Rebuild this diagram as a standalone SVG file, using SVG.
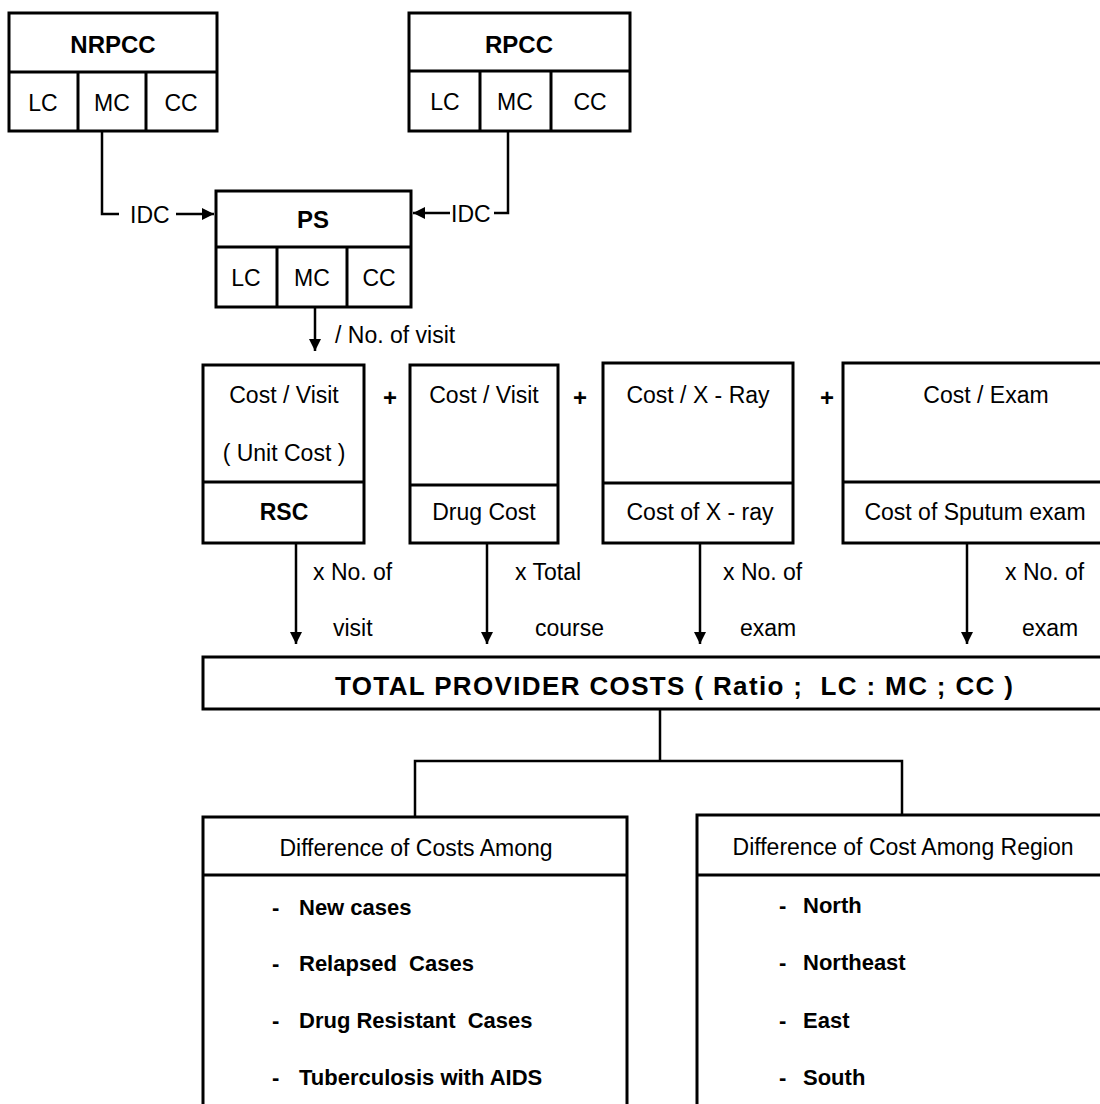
<svg xmlns="http://www.w3.org/2000/svg" width="1100" height="1104" viewBox="0 0 1100 1104">
<style>
.box{fill:#fff;stroke:#000;stroke-width:3}
.ln{fill:none;stroke:#000;stroke-width:3}
.cn{fill:none;stroke:#000;stroke-width:2.5}
text{font-family:"Liberation Sans",Arial,sans-serif;fill:#000;dominant-baseline:central}
.t{font-size:23px}
.b{font-size:24px;font-weight:bold}
.c{text-anchor:middle}
.it{font-size:22px;font-weight:bold}
.lab{font-size:23px}
</style>
<defs>
<marker id="ah" markerUnits="userSpaceOnUse" markerWidth="14" markerHeight="14" refX="12" refY="6" orient="auto">
<path d="M0,0 L12,6 L0,12 z" fill="#000"/>
</marker>
</defs>
<rect width="1100" height="1104" fill="#fff"/>

<g id="connectors">
<polyline class="cn" points="102,131 102,214 119,214"/>
<line class="cn" x1="176" y1="214" x2="214" y2="214" marker-end="url(#ah)"/>
<polyline class="cn" points="508,131 508,213 494,213"/>
<line class="cn" x1="450" y1="213" x2="413" y2="213" marker-end="url(#ah)"/>
<line class="cn" x1="315" y1="307" x2="315" y2="351" marker-end="url(#ah)"/>
<line class="cn" x1="296" y1="543" x2="296" y2="644" marker-end="url(#ah)"/>
<line class="cn" x1="487" y1="543" x2="487" y2="644" marker-end="url(#ah)"/>
<line class="cn" x1="700" y1="543" x2="700" y2="644" marker-end="url(#ah)"/>
<line class="cn" x1="967" y1="543" x2="967" y2="644" marker-end="url(#ah)"/>
<polyline class="cn" points="660,709 660,761"/>
<polyline class="cn" points="415,817 415,761 902,761 902,815"/>
<text class="lab" x="130" y="215">IDC</text>
<text class="lab" x="451" y="214">IDC</text>
<text class="lab" x="335" y="335">/ No. of visit</text>
<text class="lab" x="313" y="572">x No. of</text>
<text class="lab" x="333" y="628">visit</text>
<text class="lab" x="515" y="572">x Total</text>
<text class="lab" x="535" y="628">course</text>
<text class="lab" x="723" y="572">x No. of</text>
<text class="lab" x="740" y="628">exam</text>
<text class="lab" x="1005" y="572">x No. of</text>
<text class="lab" x="1022" y="628">exam</text>
<text class="b c" x="390" y="397">+</text>
<text class="b c" x="580" y="397">+</text>
<text class="b c" x="827" y="397">+</text>
</g>

<g id="nrpcc">
<rect class="box" x="9" y="13" width="208" height="118"/>
<line class="ln" x1="9" y1="72" x2="217" y2="72"/>
<line class="ln" x1="78" y1="72" x2="78" y2="131"/>
<line class="ln" x1="146" y1="72" x2="146" y2="131"/>
<text class="b c" x="113" y="44">NRPCC</text>
<text class="t c" x="43" y="103">LC</text>
<text class="t c" x="112" y="103">MC</text>
<text class="t c" x="181" y="103">CC</text>
</g>

<g id="rpcc">
<rect class="box" x="409" y="13" width="221" height="118"/>
<line class="ln" x1="409" y1="71" x2="630" y2="71"/>
<line class="ln" x1="480" y1="71" x2="480" y2="131"/>
<line class="ln" x1="551" y1="71" x2="551" y2="131"/>
<text class="b c" x="519" y="44">RPCC</text>
<text class="t c" x="445" y="102">LC</text>
<text class="t c" x="515" y="102">MC</text>
<text class="t c" x="590" y="102">CC</text>
</g>

<g id="ps">
<rect class="box" x="216" y="191" width="195" height="116"/>
<line class="ln" x1="216" y1="247" x2="411" y2="247"/>
<line class="ln" x1="277" y1="247" x2="277" y2="307"/>
<line class="ln" x1="347" y1="247" x2="347" y2="307"/>
<text class="b c" x="313" y="219">PS</text>
<text class="t c" x="246" y="278">LC</text>
<text class="t c" x="312" y="278">MC</text>
<text class="t c" x="379" y="278">CC</text>
</g>

<g id="rsc">
<rect class="box" x="203" y="365" width="161" height="178"/>
<line class="ln" x1="203" y1="482" x2="364" y2="482"/>
<text class="t c" x="284" y="395">Cost / Visit</text>
<text class="t c" x="284" y="453">( Unit Cost )</text>
<text class="b c" x="284" y="512" style="font-size:23px">RSC</text>
</g>

<g id="drug">
<rect class="box" x="410" y="365" width="148" height="178"/>
<line class="ln" x1="410" y1="485" x2="558" y2="485"/>
<text class="t c" x="484" y="395">Cost / Visit</text>
<text class="t c" x="484" y="512">Drug Cost</text>
</g>

<g id="xray">
<rect class="box" x="603" y="363" width="190" height="180"/>
<line class="ln" x1="603" y1="483" x2="793" y2="483"/>
<text class="t c" x="698" y="395">Cost / X - Ray</text>
<text class="t c" x="700" y="512">Cost of X - ray</text>
</g>

<g id="sputum">
<rect class="box" x="843" y="363" width="270" height="180"/>
<line class="ln" x1="843" y1="482" x2="1113" y2="482"/>
<text class="t c" x="986" y="395">Cost / Exam</text>
<text class="t c" x="975" y="512">Cost of Sputum exam</text>
</g>

<g id="total">
<rect class="box" x="203" y="657" width="910" height="52"/>
<text class="b" x="335" y="686" style="font-size:26px" textLength="678" lengthAdjust="spacing" xml:space="preserve">TOTAL PROVIDER COSTS ( Ratio ;  LC : MC ; CC )</text>
</g>

<g id="cases">
<rect class="box" x="203" y="817" width="424" height="300"/>
<line class="ln" x1="203" y1="875" x2="627" y2="875"/>
<text class="t c" x="416" y="848">Difference of Costs Among</text>
<text class="it" x="272" y="907">-</text><text class="it" x="299" y="907">New cases</text>
<text class="it" x="272" y="963">-</text><text class="it" x="299" y="963" xml:space="preserve">Relapsed  Cases</text>
<text class="it" x="272" y="1020">-</text><text class="it" x="299" y="1020" xml:space="preserve">Drug Resistant  Cases</text>
<text class="it" x="272" y="1077">-</text><text class="it" x="299" y="1077">Tuberculosis with AIDS</text>
</g>

<g id="region">
<rect class="box" x="697" y="815" width="416" height="302"/>
<line class="ln" x1="697" y1="875" x2="1113" y2="875"/>
<text class="t c" x="903" y="847">Difference of Cost Among Region</text>
<text class="it" x="779" y="905">-</text><text class="it" x="803" y="905">North</text>
<text class="it" x="779" y="962">-</text><text class="it" x="803" y="962">Northeast</text>
<text class="it" x="779" y="1020">-</text><text class="it" x="803" y="1020">East</text>
<text class="it" x="779" y="1077">-</text><text class="it" x="803" y="1077">South</text>
</g>
</svg>
